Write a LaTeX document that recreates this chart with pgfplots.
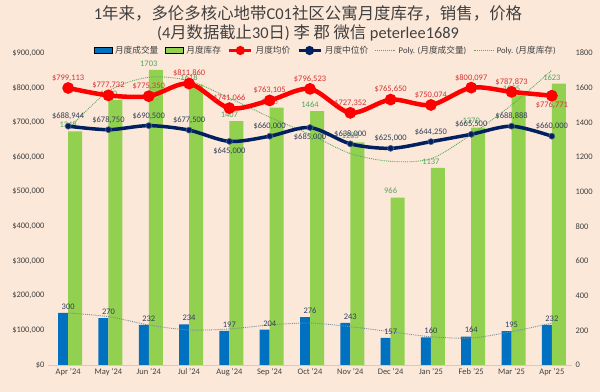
\documentclass[border=0pt]{standalone}
\usepackage{pgfplots}
\usepackage{pgfplotstable}
\pgfplotsset{compat=1.18}
\usepackage{fontspec}
\setmainfont{Carlito}
\newfontfamily\cjk{Noto Sans CJK SC}
\definecolor{bg}{RGB}{252,232,217}
\definecolor{barblue}{RGB}{0,112,192}
\definecolor{bargreen}{RGB}{146,208,80}
\definecolor{navy}{RGB}{0,32,96}
\definecolor{lblgreen}{RGB}{80,165,95}
\definecolor{lblred}{RGB}{215,50,50}
\definecolor{lblnavy}{RGB}{50,62,90}
\definecolor{tickgray}{RGB}{64,64,64}
\definecolor{trendgray}{RGB}{120,140,150}
\definecolor{trendgreen}{RGB}{90,170,90}

\pgfplotstableread{
x sales inv tsales tinv
0  300 1348 300 1360
1  270 1530 279 1580
2  232 1703 231 1660
3  234 1618 202 1640
4  197 1407 208 1540
5  204 1485 231 1430
6  276 1464 242 1330
7  243 1285 221 1220
8  157  966 192 1175
9  160 1137 163 1190
10 164 1370 156 1330
11 195 1555 192 1500
12 232 1623 242 1700
}\bars

\pgfplotstableread{
x avg med
0  799113 688944
1  777732 678750
2  775350 690500
3  811860 677500
4  741066 645000
5  763105 660000
6  796523 685000
7  727352 638000
8  765650 625000
9  750074 644250
10 800097 665500
11 787873 688888
12 776771 660000
}\prices

\pgfplotstableread{
x y lab
0  799113 799,113
1  777732 777,732
2  775350 775,350
3  811860 811,860
4  741066 741,066
5  763105 763,105
6  796523 796,523
7  727352 727,352
8  765650 765,650
9  750074 750,074
10 800097 800,097
11 787873 787,873
}\avgabove
\pgfplotstableread{
x y lab
12 776771 776,771
}\avgbelow
\pgfplotstableread{
x y lab
0  688944 688,944
1  678750 678,750
2  690500 690,500
3  677500 677,500
5  660000 660,000
7  638000 638,000
8  625000 625,000
9  644250 644,250
10 665500 665,500
11 688888 688,888
12 660000 660,000
}\medabove
\pgfplotstableread{
x y lab
4  645000 645,000
6  685000 685,000
}\medbelow

\pgfplotsset{
  lbl/.style={draw=none, mark=none, forget plot, point meta=explicit symbolic,
    nodes near coords={\$\pgfplotspointmeta},
    nodes near coords style={font=\fontsize{8.5}{10}\selectfont, text=#1}},
  boxleg/.style={legend image code/.code={\fill[##1] (0bp,-3bp) rectangle (18bp,3bp);}},
  lineleg/.style={legend image code/.code={\draw[##1] (0bp,0bp) -- (20bp,0bp);}},
  markleg/.style={legend image code/.code={\draw[##1] (0bp,0bp) -- (22bp,0bp); \fill[##1] (11bp,0bp) circle (3bp);}},
}

\begin{document}
\begin{tikzpicture}
\fill[bg] (0,0) rectangle (600bp,392bp);
\useasboundingbox (0,0) rectangle (600bp,392bp);
\node[text=tickgray, font=\fontsize{16.5}{18}\selectfont] at (308bp,379bp)
  {1{\cjk 年来，多伦多核心地带}C01{\cjk 社区公寓月度库存，销售，价格}};
\node[text=tickgray, font=\fontsize{16.4}{18}\selectfont] at (308bp,359bp)
  {(4{\cjk 月数据截止}30{\cjk 日}) {\cjk 李 郡 微信} peterlee1689};

% bars axis (right)
\begin{axis}[
  at={(48bp,27bp)}, anchor=south west,
  width=524bp, height=312bp, scale only axis,
  xmin=-0.5, xmax=12.5,
  ymin=0, ymax=1800,
  ytick={0,200,...,1800},
  axis y line*=right,
  axis x line*=bottom,
  y axis line style={draw=none},
  x axis line style={draw=black!20, line width=0.8bp},
  xtick={0,...,12},
  xticklabels={Apr '24,May '24,Jun '24,Jul '24,Aug '24,Sep '24,Oct '24,Nov '24,Dec '24,Jan '25,Feb '25,Mar '25,Apr '25},
  major tick length=0pt,
  tick label style={font=\fontsize{8.5}{10}\selectfont, text=tickgray},
  /pgf/number format/assume math mode=true,
  /pgf/number format/1000 sep={},
  clip=false,
]
\addplot[ybar, fill=barblue, draw=none, bar width=10bp, bar shift=-5bp,
  nodes near coords, nodes near coords style={font=\fontsize{8.5}{10}\selectfont, text=lblnavy, anchor=south},
  /pgf/number format/assume math mode=true, /pgf/number format/1000 sep={}]
  table[x=x,y=sales] {\bars};
\addplot[ybar, fill=bargreen, draw=none, bar width=14bp, bar shift=7bp,
  nodes near coords, nodes near coords style={font=\fontsize{8.5}{10}\selectfont, text=lblgreen, anchor=south},
  /pgf/number format/assume math mode=true, /pgf/number format/1000 sep={}]
  table[x=x,y=inv] {\bars};
\addplot[trendgray, densely dotted, line width=0.9bp, smooth, mark=none] table[x=x,y=tsales] {\bars};
\addplot[trendgreen, densely dotted, line width=0.9bp, smooth, mark=none] table[x=x,y=tinv] {\bars};
\end{axis}

% price axis (left)
\begin{axis}[
  at={(48bp,27bp)}, anchor=south west,
  width=524bp, height=312bp, scale only axis,
  xmin=-0.5, xmax=12.5,
  ymin=0, ymax=900000,
  ytick={0,100000,...,900000},
  scaled y ticks=false,
  axis y line*=left,
  axis x line=none,
  y axis line style={draw=none},
  major tick length=0pt,
  yticklabel={\$\pgfmathprintnumber[fixed,precision=0,1000 sep={,}]{\tick}},
  tick label style={font=\fontsize{8.5}{10}\selectfont, text=tickgray},
  /pgf/number format/assume math mode=true,
  clip=false,
  legend columns=6,
  legend style={at={(0.529,1.008)}, anchor=center, draw=none, fill=none,
    font=\fontsize{8.7}{9}\selectfont, text=tickgray,
    nodes={inner sep=0.8bp},
    /tikz/every odd column/.append style={column sep=2bp},
    /tikz/every even column/.append style={column sep=6bp}},
]
\addlegendimage{boxleg, fill=barblue}
\addlegendentry{{\cjk 月度成交量}}
\addlegendimage{boxleg, fill=bargreen}
\addlegendentry{{\cjk 月度库存}}
\addlegendimage{markleg, red, line width=3bp}
\addlegendentry{{\cjk 月度均价}}
\addlegendimage{markleg, navy, line width=3bp}
\addlegendentry{{\cjk 月度中位价}}
\addlegendimage{lineleg, trendgray, densely dotted, line width=0.9bp}
\addlegendentry{Poly. ({\cjk 月度成交量})}
\addlegendimage{lineleg, trendgreen, densely dotted, line width=0.9bp}
\addlegendentry{Poly. ({\cjk 月度库存})}

\addplot[red, line width=4.5bp, smooth, mark=*, mark size=3.5bp, mark options={solid, fill=red}, forget plot]
  table[x=x,y=avg] {\prices};
\addplot[navy, line width=3.5bp, smooth, mark=*, mark size=3bp, mark options={solid, fill=navy, draw=navy!70!white, line width=0.6bp}, forget plot]
  table[x=x,y=med] {\prices};
\addplot[lbl=lblred, nodes near coords style={anchor=south, yshift=3bp}] table[x=x,y=y,meta=lab] {\avgabove};
\addplot[lbl=lblred, nodes near coords style={anchor=north, yshift=-3bp}] table[x=x,y=y,meta=lab] {\avgbelow};
\addplot[lbl=lblnavy, nodes near coords style={anchor=south, yshift=3bp}] table[x=x,y=y,meta=lab] {\medabove};
\addplot[lbl=lblnavy, nodes near coords style={anchor=north, yshift=-3bp}] table[x=x,y=y,meta=lab] {\medbelow};
\end{axis}
\end{tikzpicture}
\end{document}
